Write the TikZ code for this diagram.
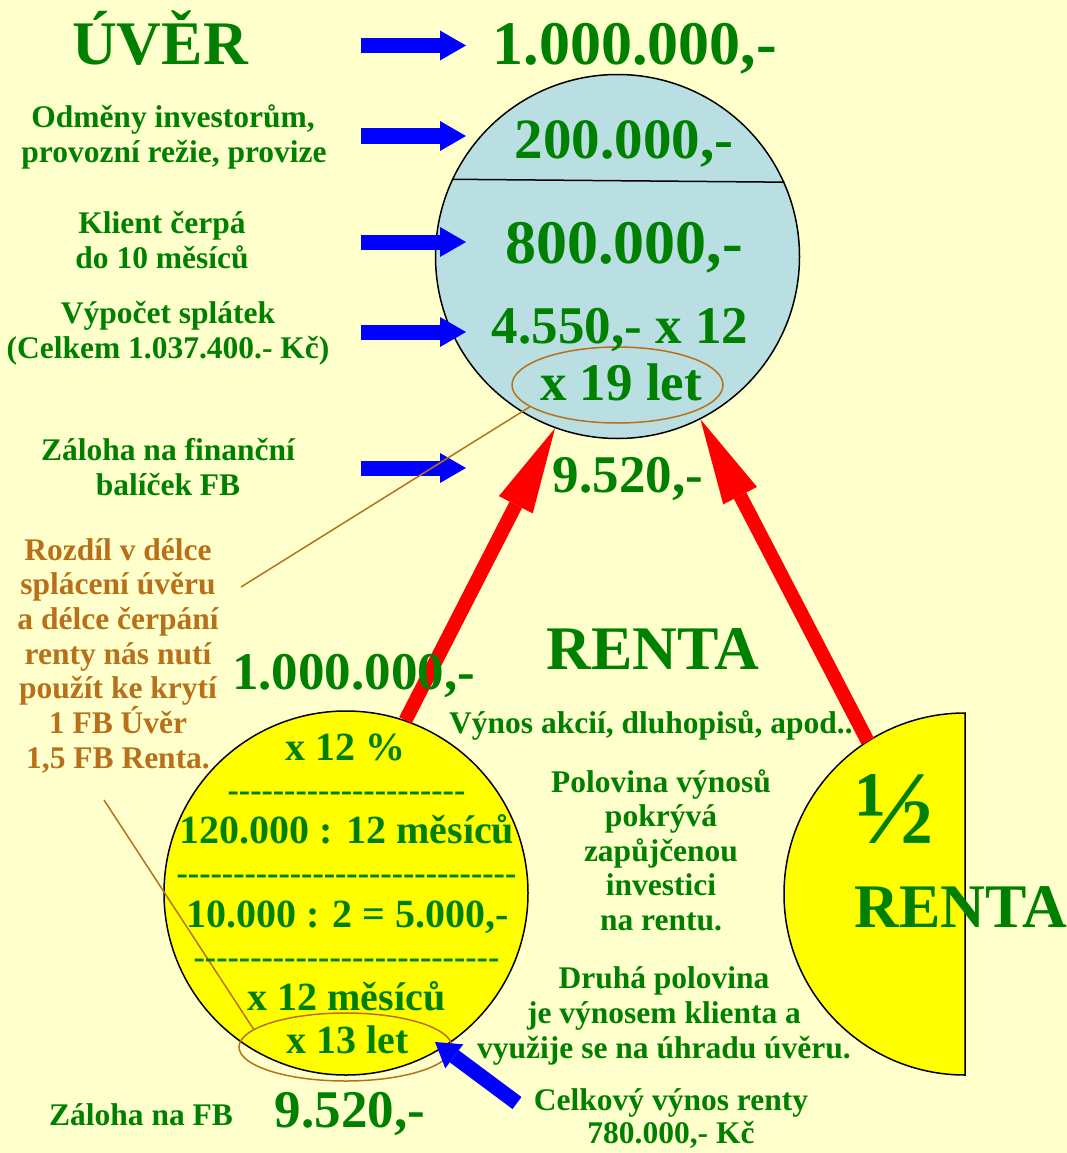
\documentclass[tikz,border=0pt]{standalone}
\usepackage{fontspec}
\setmainfont{Liberation Serif}
\newfontfamily\pomlcky{Liberation Serif}[Ligatures=TeXOff]
\usetikzlibrary{arrows.meta,shapes.geometric}

\definecolor{pozadi}{HTML}{FFFFCC}
\definecolor{zelena}{HTML}{008000}
\definecolor{modra}{HTML}{0000FF}
\definecolor{cervena}{HTML}{FF0000}
\definecolor{svetlemodra}{HTML}{BADFE3}
\definecolor{zluta}{HTML}{FFFF00}
\definecolor{hneda}{HTML}{B8701A}

\tikzset{
    txt/.style={font=\bfseries\fontsize{31.5}{35}\selectfont, text=zelena, inner sep=0pt, anchor=base},
    velky/.style={txt, font=\bfseries\fontsize{62}{70}\selectfont},
    stredni/.style={txt, font=\bfseries\fontsize{53}{60}\selectfont},
    vnitrni/.style={txt, font=\bfseries\fontsize{40}{44}\selectfont},
    carky/.style={txt, font=\pomlcky\bfseries\fontsize{34}{38}\selectfont},
    poznamka/.style={txt, text=hneda},
    kruh/.style={circle, draw=black, line width=1.5pt, inner sep=0pt},
    ovalek/.style={ellipse, draw=hneda, line width=1.5pt, inner sep=0pt},
    cara/.style={draw=hneda, line width=1.5pt},
    sipka/.style={modra, line width=15pt, -{Triangle[length=26pt,width=30pt,line width=0pt]}},
    rsipka/.style={cervena, line width=14pt, -{Triangle[length=86pt,width=38pt,line width=0pt]}}
}

\begin{document}
\begin{tikzpicture}[x=1pt, y=-1pt]
    \fill[pozadi] (0,0) rectangle (1067,1153);
    \useasboundingbox (0,0) rectangle (1067,1153);

    % kruhy a ovaly
    \node[kruh, fill=svetlemodra, minimum size=364pt] (uver) at (617.5,256.5) {};
    \node[kruh, fill=zluta, minimum size=364pt] (renta) at (346,893) {};
    \coordinate (pul) at (965,894);
    \draw[fill=zluta, line width=1.5pt] ([yshift=181pt]pul) arc[start angle=90, end angle=270, radius=181pt] -- cycle;
    \draw[line width=1.5pt] (uver.155.8) -- (uver.24.2);
    \node[ovalek, minimum width=211pt, minimum height=76pt] (ov19) at (617.5,385) {};
    \node[ovalek, minimum width=213pt, minimum height=68pt] (ov13) at (345.5,1047) {};

    % modre sipky
    \foreach \y [count=\i] in {45.5,136,242,332,468}
        {
            \coordinate (od\i) at (361,\y);
            \coordinate (do\i) at (466,\y);
            \draw[sipka] (od\i) -- (do\i);
        }
    \coordinate (celkem) at (517,1103);
    \coordinate (hrot) at (435,1042);
    \draw[sipka, -{Triangle[length=24pt,width=30pt,line width=0pt]}] (celkem) -- (hrot);

    % cervene sipky
    \coordinate (pulkraj) at ([shift={(122.5:181pt)}]pul);
    \draw[rsipka] (renta.71) -- (uver.-110.6);
    \draw[rsipka] (pulkraj) -- (uver.-63.2);

    % hnede cary
    \coordinate (poznA) at (241,587);
    \coordinate (poznB) at (104,800);
    \draw[cara] (ov19.194) -- (poznA);
    \draw[cara] (poznB) -- (ov13.169);

    % nadpisy
    \node[velky] (uvertxt) at (160,65) {ÚVĚR};
    \node[velky] (celkuver) at (635,65) {1.000.000,-};
    \node[velky] (rentatxt) at (653,669) {RENTA};
    \node[velky, font=\bfseries\fontsize{105}{110}\selectfont] (polovina) at (895,843) {½};
    \node[velky] (pulrenta) at (961,927) {RENTA};

    % leve popisky
    \node[txt] (odmeny1) at (173,128) {Odměny investorům,};
    \node[txt] (odmeny2) at (174,162) {provozní režie, provize};
    \node[txt] (klient1) at (162,233) {Klient čerpá};
    \node[txt] (klient2) at (162,268) {do 10 měsíců};
    \node[txt] (vypocet1) at (168,323) {Výpočet splátek};
    \node[txt] (vypocet2) at (168,358) {(Celkem 1.037.400.- Kč)};
    \node[txt] (zal1) at (168,460) {Záloha na finanční};
    \node[txt] (zal2) at (168,495) {balíček FB};

    % horni kruh
    \node[stredni, font=\bfseries\fontsize{57}{64}\selectfont] (c200) at (624,158) {200.000,-};
    \node[velky] (c800) at (624,263) {800.000,-};
    \node[stredni] (splatka) at (620,343) {4.550,- x 12};
    \node[stredni] (let19) at (621,400) {x 19 let};
    \node[stredni] (zaloha) at (628,492) {9.520,-};

    % poznamka
    \foreach \t [count=\i] in {Rozdíl v délce, splácení úvěru, a délce čerpání, renty nás nutí, použít ke krytí, 1 FB Úvěr, {1,5 FB Renta.}}
        {
            \node[poznamka] (rozdil\i) at (118, 560+34.67*\i-34.67) {\t};
        }

    % dolni kruh
    \node[stredni] (dolnicastka) at (353.5,689) {1.000.000,-};
    \node[vnitrni] (r1) at (345,760) {x 12 \%};
    \node[carky] (d1) at (346.5,801) {---------------------};
    \node[vnitrni] (r2) at (347,843) {120.000 : 12 měsíců};
    \node[carky] (d2) at (346.5,884) {------------------------------};
    \node[vnitrni] (r3) at (347.5,927) {10.000 : 2 = 5.000,-};
    \node[carky] (d3) at (346.5,968) {---------------------------};
    \node[vnitrni] (r4) at (346.5,1010) {x 12 měsíců};
    \node[vnitrni] (r5) at (347.5,1053) {x 13 let};
    \node[txt] (zalfb) at (141,1125) {Záloha na FB};
    \node[stredni] (dolnizaloha) at (350,1127) {9.520,-};

    % texty renta
    \node[txt] (vynos) at (651,733) {Výnos akcií, dluhopisů, apod..};
    \foreach \t [count=\i] in {Polovina výnosů, pokrývá, zapůjčenou, investici, na rentu.}
        {
            \node[txt] (pol\i) at (661, 792+34.5*\i-34.5) {\t};
        }
    \foreach \t [count=\i] in {Druhá polovina, je výnosem klienta a, využije se na úhradu úvěru.}
        {
            \node[txt] (druha\i) at (664, 988+35*\i-35) {\t};
        }
    \node[txt] (celk1) at (671,1110) {Celkový výnos renty};
    \node[txt] (celk2) at (671,1143) {780.000,- Kč};
\end{tikzpicture}
\end{document}
